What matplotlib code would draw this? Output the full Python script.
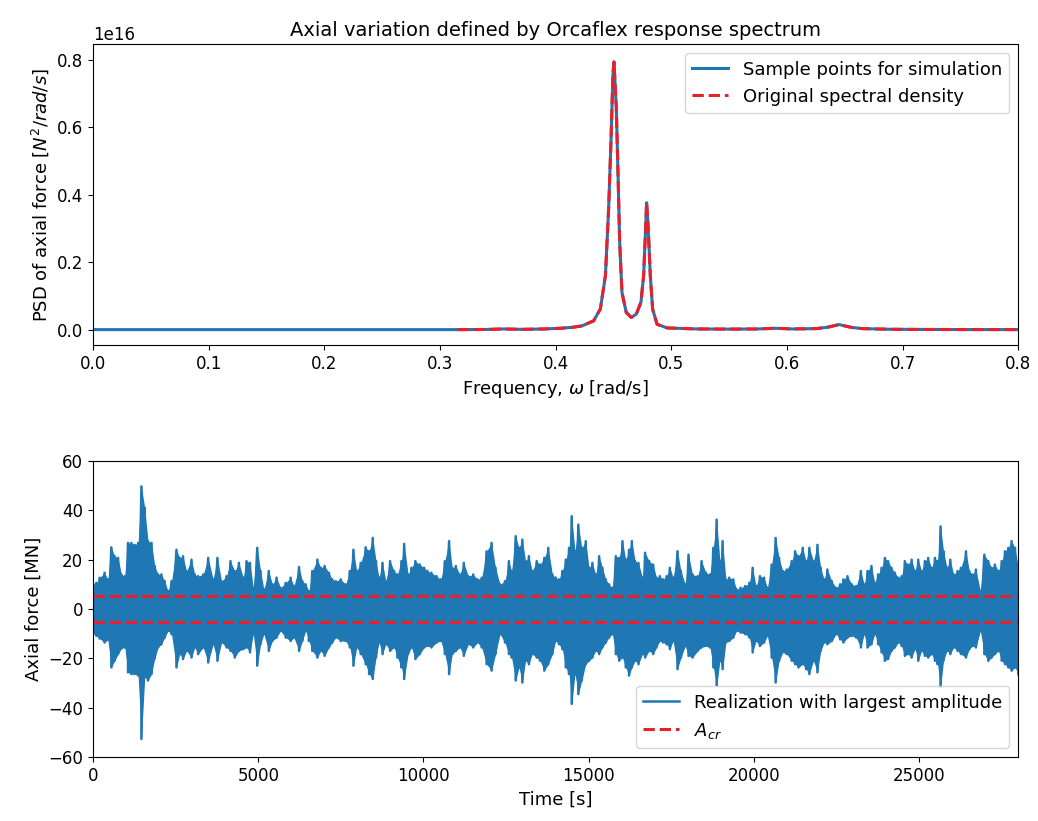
import matplotlib
matplotlib.use("Agg")
import matplotlib.pyplot as plt
from matplotlib.ticker import FuncFormatter
import numpy as np

# spectral density (units of 1e16 N^2/(rad/s))
omega = [0.315, 0.34, 0.355, 0.37, 0.39, 0.404, 0.415, 0.4227, 0.4328, 0.4386,
         0.443, 0.4458, 0.4478, 0.4495, 0.4504, 0.4524, 0.4539, 0.4553, 0.4573,
         0.461, 0.4654, 0.4697, 0.4737, 0.476, 0.4775, 0.4786, 0.480, 0.4818,
         0.4838, 0.4876, 0.4963, 0.522, 0.55, 0.575, 0.59, 0.605, 0.625, 0.635,
         0.645, 0.655, 0.665, 0.69, 0.72, 0.76, 0.8]
psd = [0.0, 0.0005, 0.002, 0.0008, 0.002, 0.004, 0.007, 0.011, 0.026, 0.061,
       0.16, 0.36, 0.558, 0.757, 0.793, 0.658, 0.459, 0.26, 0.11,
       0.051, 0.036, 0.046, 0.081, 0.16, 0.28, 0.376, 0.30, 0.16,
       0.061, 0.016, 0.005, 0.002, 0.0015, 0.002, 0.004, 0.002, 0.003, 0.007,
       0.015, 0.007, 0.003, 0.001, 0.0005, 0.0002, 0.0001]

# sample points: zero below the spectrum's start
omega_low = [0.0, 0.1, 0.2, 0.3]
psd_low = [0.0, 0.0, 0.0, 0.0]

psd_ticks = [0.0, 0.2, 0.4, 0.6, 0.8]

# envelope of the realisation
t_peak = [0, 100, 200, 350, 450, 555, 655, 760, 860, 960, 1060, 1160, 1260, 1365,
          1465, 1565, 1665, 1770, 1870, 1970, 2070, 2170, 2270, 2375, 2525, 2625,
          2725, 2830, 2980, 3080, 3180, 3335, 3485, 3635, 3765, 3890, 4040, 4160,
          4290, 4415, 4545, 4645,
          4750, 4850, 4970, 5070, 5170, 5320, 5425, 5555, 5675, 5830, 5980, 6080,
          6235, 6335, 6435, 6535, 6635, 6790, 6890, 7010, 7140, 7240, 7345, 7495,
          7645, 7770, 7880, 7980, 8100, 8250, 8355, 8465, 8565, 8655, 8760, 8860,
          8990, 9110, 9210,
          9333, 9415, 9535, 9635, 9755, 9890, 10020, 10120, 10240, 10395, 10525,
          10645, 10775, 10870, 10980, 11100, 11220, 11355, 11505, 11635, 11760,
          11910, 12060, 12180, 12315, 12465, 12585, 12665, 12790, 12890, 12990,
          13090, 13190, 13290, 13425, 13525, 13655, 13775, 13900,
          14000, 14100, 14200, 14305, 14405, 14485, 14585, 14685, 14790, 14910,
          15010, 15110, 15210, 15315, 15415, 15515, 15615, 15715, 15820, 15920,
          16020, 16120, 16220, 16305, 16405, 16505, 16625, 16705, 16830, 16950,
          17050, 17150, 17250, 17355, 17455, 17555, 17685, 17790, 17920, 18020,
          18140, 18295, 18415, 18545,
          18667, 18770, 18870, 18970, 19050, 19150, 19250, 19375, 19475, 19595,
          19730, 19860, 19960, 20060, 20180, 20305, 20405, 20535, 20655, 20760,
          20870, 20990, 21140, 21245, 21345, 21475, 21575, 21675, 21800, 21920,
          22020, 22120, 22220, 22355, 22485, 22605, 22705, 22830, 22960, 23090,
          23235,
          23333, 23435, 23555, 23655, 23755, 23860, 23960, 24060, 24160, 24265,
          24365, 24465, 24565, 24665, 24770, 24870, 24970, 25070, 25170, 25270,
          25375, 25475, 25555, 25645, 25735, 25840, 25940, 26040, 26160, 26260,
          26415, 26515, 26615, 26715, 26850, 26970, 27090, 27190, 27290, 27395,
          27495, 27595, 27695, 27795, 27900, 28000]

f_upper = [10, 10.6, 12.7, 14.7, 12, 25, 21.4, 20.7, 14, 13.3, 26.8, 26.8, 26, 26.8,
           49.7, 41, 27.5, 26.8, 17.4, 14, 14, 11.3, 7.3, 11.3, 24, 20.7,
           21.4, 15.3, 20, 14, 13.3, 14, 20.7, 12, 20.7, 11.3, 13.3, 19.4,
           15.3, 18.7, 12.7, 19.4,
           18.7, 8.6, 24.8, 15.4, 8, 15.4, 10, 12.7, 8.6, 10.6, 12.7, 9.3,
           17, 11.3, 10, 7.3, 15.4, 20, 16.7, 17.4, 14.7, 12, 11.3, 12,
           10, 15.4, 24, 15.4, 18.7, 25, 23.4, 28.8, 19.4, 12.7, 18.7, 11.3,
           19.4, 15.4, 14,
           19.4, 26.4, 14, 16.7, 19.4, 18, 16.7, 15.4, 14.7, 13.3, 12,
           19.4, 27.5, 16.7, 17.4, 14, 18.7, 13.3, 14, 12, 12.7,
           23.4, 26.8, 16.7, 10, 11.3, 19.4, 15.4, 29.5, 24.8, 28.1,
           19.4, 21.4, 15.4, 19.4, 18, 20.7, 24.8, 14,
           12.7, 12, 15.4, 20, 24.8, 37.6, 23.4, 34.2, 24.8, 27.5,
           16.7, 18.7, 14, 21.4, 16.7, 12, 10, 8.6, 21.4, 20.7,
           27.5, 20, 24, 27.5, 19.4, 18.7, 12.7, 22.8, 19.4, 18,
           12.7, 13.3, 12, 13.3, 16.7, 12.7, 23.4, 15.4, 10, 22,
           14, 13.3, 19.4, 14.7,
           14, 24.8, 36.2, 19.4, 27.5, 12, 12.7, 12, 8, 8.6,
           9.3, 10.6, 16.7, 9.3, 13.3, 12.7, 8.6, 18, 28.8, 20.7,
           15.4, 16, 19.4, 23.4, 21.4, 24.8, 19.4, 24.8, 19.4, 26,
           16.7, 12, 16, 11.3, 8.6, 10, 12, 13.3, 10, 9.3,
           15.4,
           10, 15.4, 17.4, 10.6, 14, 16.7, 20.7, 19.4, 16.7, 14.7,
           12.7, 13.3, 19.4, 18, 20, 15.4, 20, 15.4, 19.4, 20.7,
           16.7, 20.7, 19.4, 33.5, 23.4, 16.7, 20, 14, 15.4, 16.7,
           23.4, 15.4, 14, 16, 7.3, 22, 19.4, 16.7, 18, 15.4,
           19.4, 23.4, 24.8, 27.5, 24.8, 16.7]

f_lower = [-10, -10.9, -12, -13.6, -12.5, -23.7, -21, -18.3, -16, -15.6, -25.7, -26.4, -26.4, -27,
           -52.7, -27.7, -29, -26.4, -20, -15.6, -14.3, -11.6, -8.9, -10.2, -23.7, -18.3,
           -20.3, -17, -19.7, -15.6, -18.3, -15.6, -21.7, -14.3, -21, -13.6, -15.6, -17,
           -19.7, -17, -16.3, -15.6,
           -17.6, -10.2, -23, -14.3, -10.2, -17, -13, -11.6, -8.9, -11.6, -13, -11.6,
           -17, -13, -8.9, -13, -17, -19.7, -17, -19, -15.6, -13.6, -11.6, -13,
           -13, -15.6, -23, -15.6, -18.3, -22.4, -26.4, -28.4, -19.7, -13.6, -18.3, -14.3,
           -17, -15.6, -19.7,
           -23.7, -28.4, -18.3, -15.6, -20.3, -18.3, -15.6, -15, -15.6, -13.6, -13,
           -18.3, -26.4, -18.3, -17, -15.6, -19, -14.3, -15.6, -13.6, -15.6,
           -22.4, -25, -18.3, -10.2, -13.6, -18.3, -19.7, -29, -23.7, -29.8,
           -21, -22.4, -18.3, -19.7, -21, -25, -22.4, -18.3,
           -13, -14.3, -16.3, -23.7, -26.4, -38.5, -26.4, -34.5, -29, -22.4,
           -21, -19.7, -17, -18.3, -15.6, -13.6, -11.6, -10.2, -18.3, -21,
           -19.7, -23.7, -27, -23.7, -21, -22.4, -18.3, -19.7, -17, -18.3,
           -15.6, -13, -13.6, -14.3, -16.3, -13, -24.4, -19.7, -15, -19,
           -19.7, -17, -15.6, -15,
           -15.6, -23.7, -31.1, -21, -24.4, -13.6, -13, -11.6, -8.9, -9.6,
           -10.2, -11.6, -17.6, -13, -15, -13.6, -10.9, -19.7, -29.8, -21,
           -17.6, -18.3, -21, -22.4, -23.7, -22.4, -24.4, -26.4, -21, -25.7,
           -17, -13.6, -14.3, -13, -10.2, -12.3, -13.6, -11.6, -10.9, -11.6,
           -15.6,
           -10.2, -15.6, -14.3, -10.2, -14.3, -17.6, -21, -20.3, -17, -15.6,
           -13.6, -15, -19, -18.3, -19.7, -16.3, -21, -17, -19, -19.7,
           -18.3, -21, -22.4, -31.8, -21, -17, -18.3, -15.6, -17, -18.3,
           -19.7, -16.3, -15, -15.6, -8.9, -18.3, -21, -19.7, -18.3, -17,
           -21, -22.4, -23.7, -25, -23.7, -26.4]

a_cr = 5.3
t_end = 28000

plt.rcParams['font.size'] = 12
plt.rcParams['axes.labelsize'] = 13
plt.rcParams['legend.fontsize'] = 13

fig = plt.figure(figsize=(10.38, 8.21), dpi=100)
ax1 = fig.add_axes([0.0896, 0.580, 0.8915, 0.366])
ax2 = fig.add_axes([0.0896, 0.078, 0.8915, 0.3605])

# --- top: spectrum ---
scale = 1e16
om_s = omega_low + omega
ps_s = np.array(psd_low + psd) * scale
ax1.plot(om_s, ps_s, color='C0', lw=2.2, label='Sample points for simulation')
ax1.plot(omega, np.array(psd) * scale, '--', color='#e8202a', lw=2.2,
         label='Original spectral density')
ax1.set_xlim(0, 0.8)
ax1.set_ylim(-0.045e16, 0.845e16)
ax1.set_yticks(np.array(psd_ticks) * scale)
fmt = FuncFormatter(lambda v, p: f'{v / scale:.1f}')
fmt.set_offset_string('1e16')
ax1.yaxis.set_major_formatter(fmt)
ax1.set_xlabel(r'Frequency, $\omega$ [rad/s]')
ax1.set_ylabel(r'PSD of axial force [$N^2/rad/s$]')
ax1.set_title('Axial variation defined by Orcaflex response spectrum', fontsize=14)
ax1.legend(loc='upper right')

# --- bottom: time realisation ---
t_arr = np.array(t_peak)
up = np.array(f_upper)
lo = np.array(f_lower)
ax2.fill_between(t_arr, lo, up, color='C0', lw=0)
t_zig = np.repeat(t_arr, 2)
f_zig = np.column_stack([up, lo]).ravel()
ax2.plot(t_zig, f_zig, color='C0', lw=1.8, label='Realization with largest amplitude')
ax2.plot([0, t_end], [a_cr, a_cr], '--', color='#e8202a', lw=2.2, label='$A_{cr}$')
ax2.plot([0, t_end], [-a_cr, -a_cr], '--', color='#e8202a', lw=2.2)
ax2.set_xlim(0, t_end)
ax2.set_ylim(-60, 60)
ax2.set_xlabel('Time [s]')
ax2.set_ylabel('Axial force [MN]')
ax2.legend(loc='lower right')

fig.savefig('out.png', dpi=100)
